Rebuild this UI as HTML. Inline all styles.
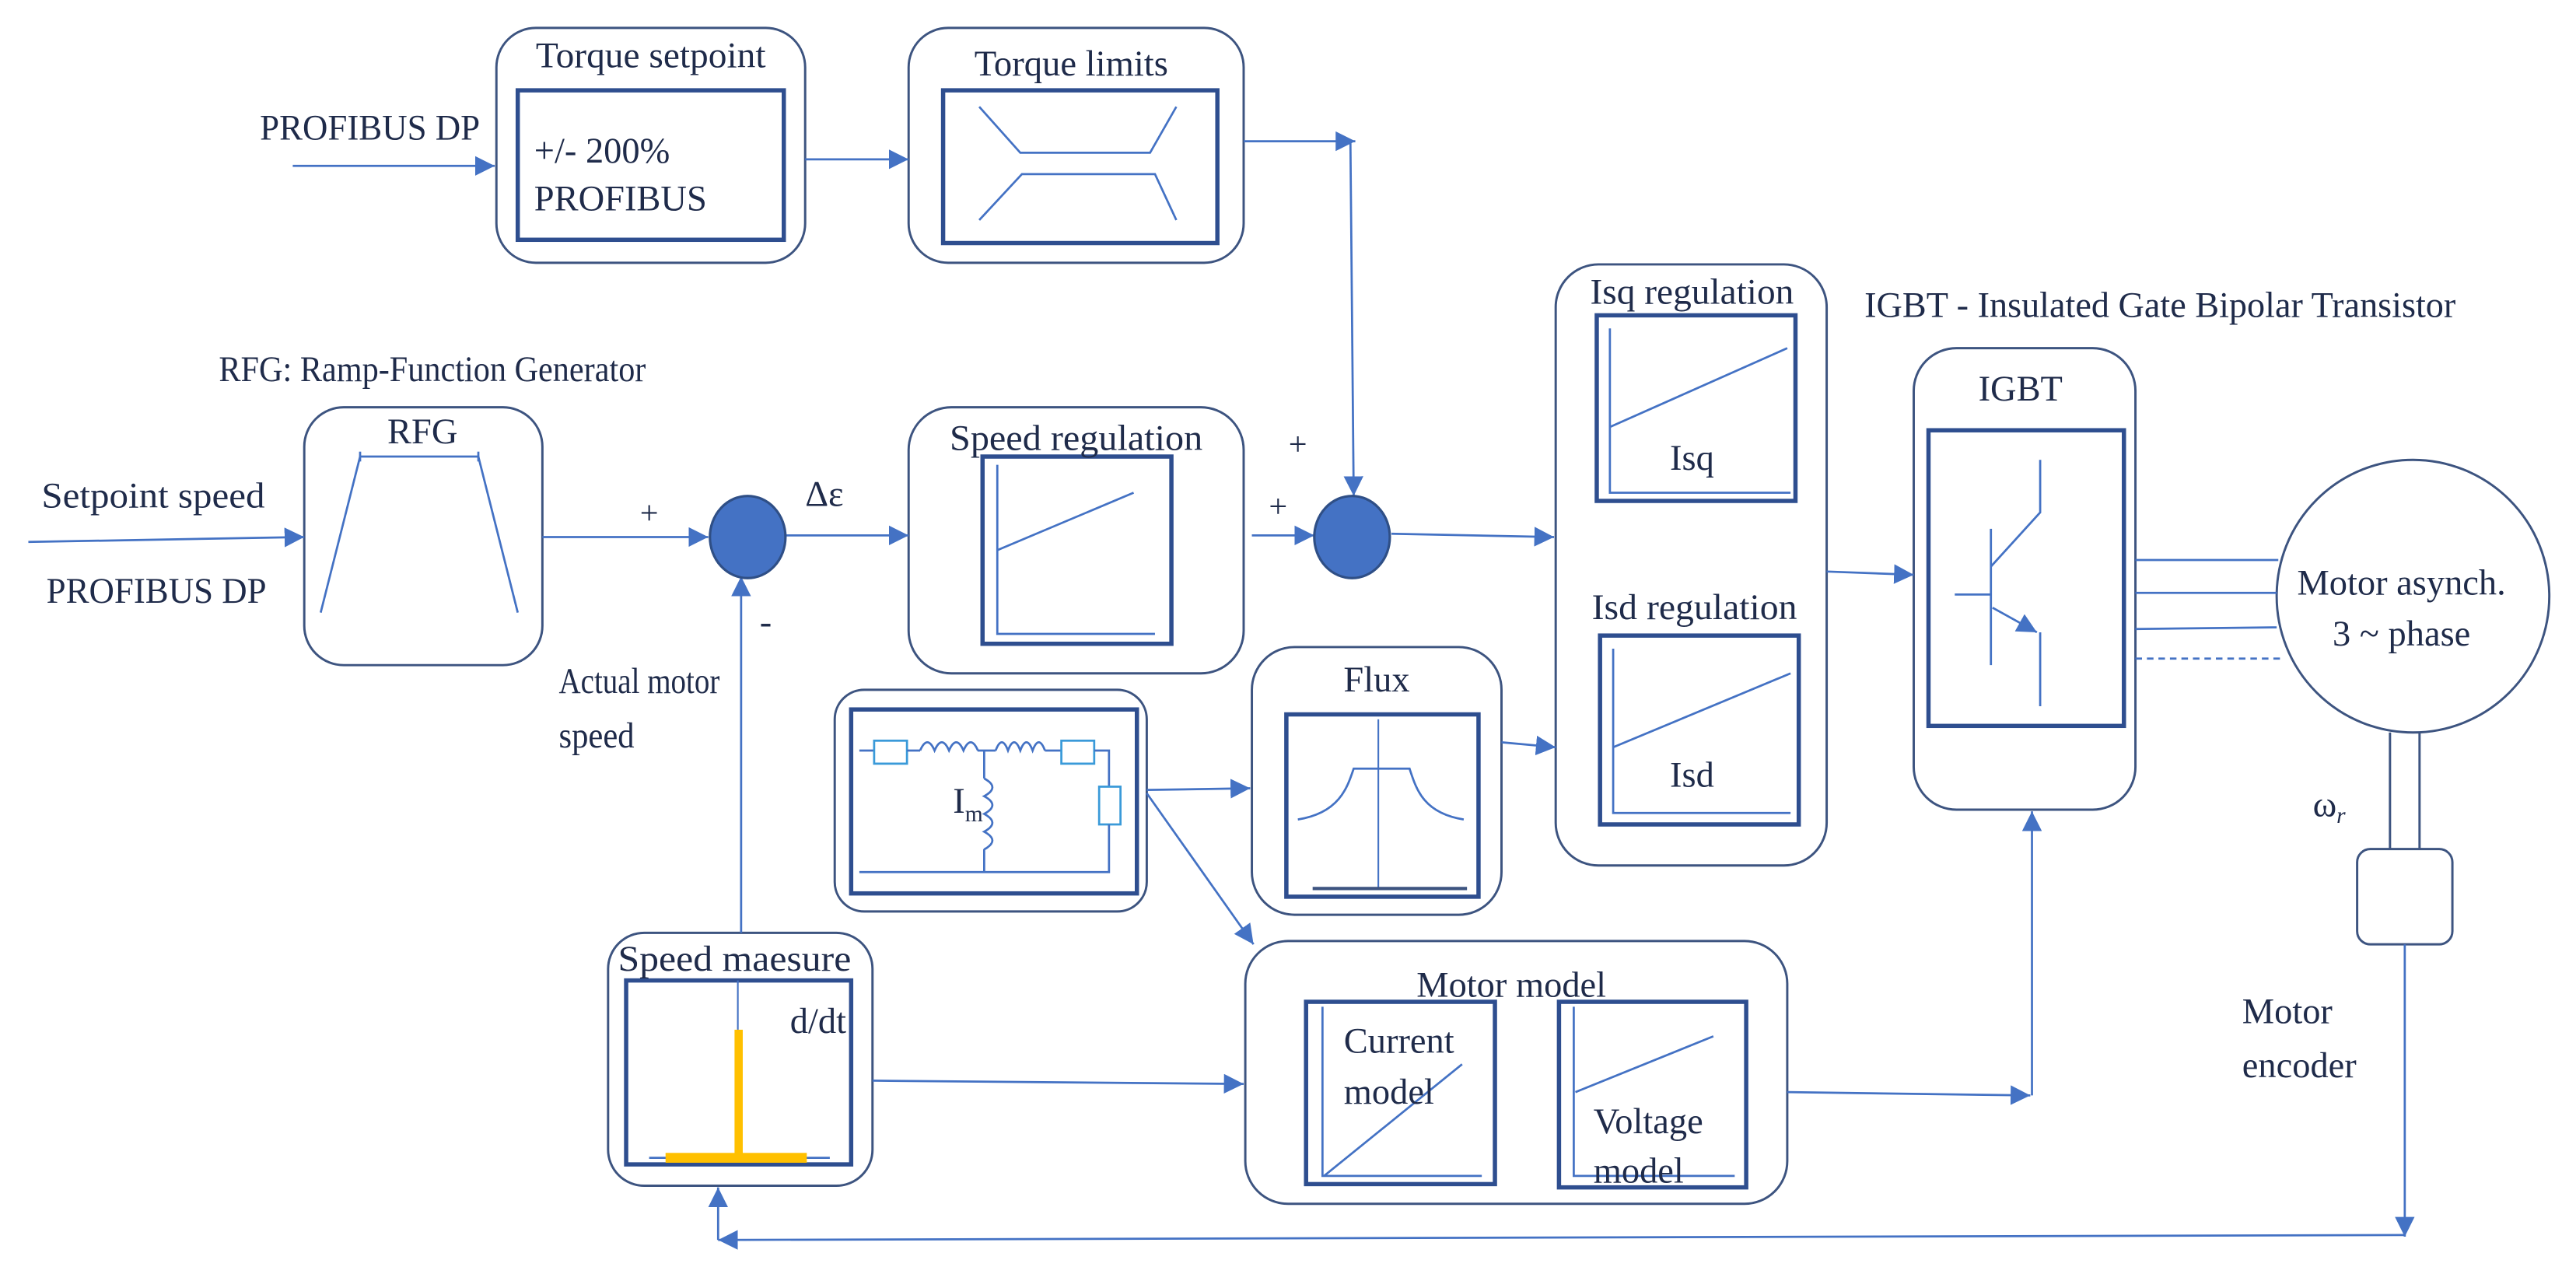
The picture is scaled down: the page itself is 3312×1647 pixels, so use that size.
<!DOCTYPE html>
<html><head><meta charset="utf-8"><style>
html,body{margin:0;padding:0;background:#fff;}
svg{display:block;}
text{font-family:"Liberation Serif",serif;fill:#1f2b4a;}
</style></head><body>
<svg width="3312" height="1647" viewBox="0 0 1568 780" xmlns="http://www.w3.org/2000/svg">
<defs>
<marker id="b" viewBox="0 0 10 10" refX="10" refY="5" markerWidth="12" markerHeight="12" orient="auto" markerUnits="userSpaceOnUse">
<path d="M0,0 L10,5 L0,10 z" fill="#4472c4"/></marker>
</defs>
<rect width="1568" height="780" fill="#fff"/>
<g fill="none" stroke="#3d5480" stroke-width="1.4">
<rect x="302" y="17" width="188" height="143" rx="24"/>
<rect x="553" y="17" width="204" height="143" rx="24"/>
<rect x="185" y="248" width="145" height="157" rx="24"/>
<rect x="553" y="248" width="204" height="162" rx="26"/>
<rect x="947" y="161" width="165" height="366" rx="26"/>
<rect x="1165" y="212" width="135" height="281" rx="26"/>
<rect x="508" y="420" width="190" height="135" rx="18"/>
<rect x="762" y="394" width="152" height="163" rx="26"/>
<rect x="370" y="568" width="161" height="154" rx="22"/>
<rect x="758" y="573" width="330" height="160" rx="26"/>
<rect x="1435" y="517" width="58" height="58" rx="8"/>
<ellipse cx="1469" cy="363" rx="83" ry="83"/>
<line x1="1455" y1="446" x2="1455" y2="517"/><line x1="1473" y1="446" x2="1473" y2="517"/>
</g>
<g fill="none" stroke="#2e4e8f" stroke-width="2.6">
<rect x="315" y="55" width="162" height="91"/>
<rect x="574" y="55" width="167" height="93"/>
<rect x="598" y="278" width="115" height="114"/>
<rect x="972" y="192" width="121" height="113"/>
<rect x="974" y="387" width="121" height="115"/>
<rect x="1174" y="262" width="119" height="180"/>
<rect x="518" y="432" width="174" height="112"/>
<rect x="783" y="435" width="117" height="111"/>
<rect x="381" y="597" width="137" height="112"/>
<rect x="795" y="610" width="115" height="111"/>
<rect x="949" y="610" width="114" height="113"/>
</g>
<g fill="none" stroke="#4472c4" stroke-width="1.3">
<polyline points="596,65 621,93 700,93 716,65"/>
<polyline points="596,134 622,106 703,106 716,134"/>
<polyline points="195,373 219,278 291,278 315,373"/>
<line x1="219" y1="275" x2="219" y2="281"/><line x1="291" y1="275" x2="291" y2="281"/>
<polyline points="607,283 607,386 703,386"/><line x1="607" y1="335" x2="690" y2="300"/>
<polyline points="980,200 980,300 1090,300"/><line x1="980" y1="260" x2="1088" y2="212"/>
<polyline points="982,395 982,495 1090,495"/><line x1="982" y1="455" x2="1090" y2="410"/>
<line x1="1212" y1="322" x2="1212" y2="405"/><line x1="1190" y1="362" x2="1212" y2="362"/>
<polyline points="1212,345 1242,312 1242,280"/>
<line x1="1213" y1="370" x2="1240" y2="385" marker-end="url(#b)"/>
<line x1="1242" y1="385" x2="1242" y2="430"/>
<line x1="839" y1="438" x2="839" y2="541" stroke-width="1"/>
<line x1="799" y1="541" x2="893" y2="541" stroke="#3d5480" stroke-width="2"/>
<path d="M790,499 C815,495 820,480 824,468 L858,468 C862,480 866,495 891,499"/>
<polyline points="805,613 805,716 902,716"/><line x1="806" y1="716" x2="890" y2="648"/>
<polyline points="958,613 958,716 1056,716"/><line x1="959" y1="665" x2="1043" y2="631"/>
<line x1="449" y1="597" x2="449" y2="627" stroke-width="1"/>
<line x1="395" y1="705" x2="505" y2="705"/>
<line x1="523" y1="457" x2="532" y2="457"/><rect x="532" y="451" width="20" height="14" stroke="#3a9ad9"/>
<line x1="552" y1="457" x2="560" y2="457"/>
<path d="M560,457 q4.4,-10 8.8,0 q4.4,-10 8.8,0 q4.4,-10 8.8,0 q4.4,-10 8.8,0"/>
<line x1="595" y1="457" x2="606" y2="457"/>
<path d="M606,457 q3.75,-10 7.5,0 q3.75,-10 7.5,0 q3.75,-10 7.5,0 q3.75,-10 7.5,0"/>
<line x1="636" y1="457" x2="646" y2="457"/><rect x="646" y="451" width="20" height="14" stroke="#3a9ad9"/>
<polyline points="666,457 675,457 675,479"/><rect x="669" y="479" width="13" height="23" stroke="#3a9ad9"/>
<polyline points="675,502 675,531 523,531"/>
<line x1="599" y1="457" x2="599" y2="474"/>
<path d="M599,474 q10,5.4 0,10.8 q10,5.4 0,10.8 q10,5.4 0,10.8 q10,5.4 0,10.8"/>
<line x1="599" y1="517" x2="599" y2="531"/>
<line x1="1300" y1="341" x2="1387" y2="341"/>
<line x1="1300" y1="361" x2="1386" y2="361"/>
<line x1="1300" y1="383" x2="1386" y2="382"/>
<line x1="1300" y1="401" x2="1390" y2="401" stroke-dasharray="4,3"/>
<line x1="178" y1="101" x2="301" y2="101" marker-end="url(#b)"/>
<line x1="490" y1="97" x2="553" y2="97" marker-end="url(#b)"/>
<line x1="757" y1="86" x2="825" y2="86" marker-end="url(#b)"/>
<line x1="822" y1="86" x2="824" y2="302" marker-end="url(#b)"/>
<line x1="17" y1="330" x2="185" y2="327" marker-end="url(#b)"/>
<line x1="330" y1="327" x2="431" y2="327" marker-end="url(#b)"/>
<line x1="478" y1="326" x2="553" y2="326" marker-end="url(#b)"/>
<line x1="451" y1="568" x2="451" y2="351" marker-end="url(#b)"/>
<line x1="762" y1="326" x2="800" y2="326" marker-end="url(#b)"/>
<line x1="847" y1="325" x2="946" y2="327" marker-end="url(#b)"/>
<line x1="1112" y1="348" x2="1165" y2="350" marker-end="url(#b)"/>
<line x1="698" y1="481" x2="761" y2="480" marker-end="url(#b)"/>
<line x1="698" y1="483" x2="763" y2="575" marker-end="url(#b)"/>
<line x1="914" y1="452" x2="947" y2="455" marker-end="url(#b)"/>
<line x1="531" y1="658" x2="757" y2="660" marker-end="url(#b)"/>
<line x1="1088" y1="665" x2="1236" y2="667" marker-end="url(#b)"/>
<line x1="1237" y1="667" x2="1237" y2="494" marker-end="url(#b)"/>
<line x1="1464" y1="575" x2="1464" y2="753" marker-end="url(#b)"/>
<line x1="1464" y1="752" x2="437" y2="755" marker-end="url(#b)"/>
<line x1="437" y1="755" x2="437" y2="723" marker-end="url(#b)"/>
</g>
<g fill="#4472c4" stroke="#2f4f86" stroke-width="1.5">
<ellipse cx="455" cy="327" rx="23" ry="25"/>
<ellipse cx="823" cy="327" rx="23" ry="25"/>
</g>
<g fill="#ffc000">
<rect x="447" y="627" width="5" height="77"/>
<rect x="405" y="702" width="86" height="6"/>
</g>
<g font-size="22">
<text x="158" y="85" textLength="134" lengthAdjust="spacingAndGlyphs">PROFIBUS DP</text>
<text x="326" y="41" textLength="140" lengthAdjust="spacingAndGlyphs">Torque setpoint</text>
<text x="325" y="99">+/- 200%</text>
<text x="325" y="128">PROFIBUS</text>
<text x="593" y="46" textLength="118" lengthAdjust="spacingAndGlyphs">Torque limits</text>
<text x="133" y="232" textLength="260" lengthAdjust="spacingAndGlyphs">RFG: Ramp-Function Generator</text>
<text x="257" y="270" text-anchor="middle">RFG</text>
<text x="25" y="309" textLength="136" lengthAdjust="spacingAndGlyphs">Setpoint speed</text>
<text x="28" y="367" textLength="134" lengthAdjust="spacingAndGlyphs">PROFIBUS DP</text>
<text x="395" y="319" text-anchor="middle" font-size="20">+</text>
<text x="490" y="308">Δε</text>
<text x="466" y="386" text-anchor="middle">-</text>
<text x="340" y="422" textLength="98" lengthAdjust="spacingAndGlyphs">Actual motor</text>
<text x="340" y="455" textLength="46" lengthAdjust="spacingAndGlyphs">speed</text>
<text x="578" y="274" textLength="154" lengthAdjust="spacingAndGlyphs">Speed regulation</text>
<text x="790" y="277" text-anchor="middle" font-size="20">+</text>
<text x="778" y="315" text-anchor="middle" font-size="20">+</text>
<text x="968" y="185" textLength="124" lengthAdjust="spacingAndGlyphs">Isq regulation</text>
<text x="1030" y="286" text-anchor="middle">Isq</text>
<text x="969" y="377" textLength="125" lengthAdjust="spacingAndGlyphs">Isd regulation</text>
<text x="1030" y="479" text-anchor="middle">Isd</text>
<text x="1135" y="193" textLength="360" lengthAdjust="spacingAndGlyphs">IGBT - Insulated Gate Bipolar Transistor</text>
<text x="1230" y="244" text-anchor="middle">IGBT</text>
<text x="1462" y="362" text-anchor="middle">Motor asynch.</text>
<text x="1462" y="393" text-anchor="middle">3 ~ phase</text>
<text x="1408" y="497">ω<tspan font-size="14" font-style="italic" dy="4">r</tspan></text>
<text x="1365" y="623">Motor</text>
<text x="1365" y="656">encoder</text>
<text x="838" y="421" text-anchor="middle">Flux</text>
<text x="580" y="495">I<tspan font-size="14" dy="5">m</tspan></text>
<text x="447" y="591" text-anchor="middle" textLength="142" lengthAdjust="spacingAndGlyphs">Speed maesure</text>
<text x="515" y="629" text-anchor="end">d/dt</text>
<text x="920" y="607" text-anchor="middle">Motor model</text>
<text x="818" y="641">Current</text>
<text x="818" y="672">model</text>
<text x="970" y="690">Voltage</text>
<text x="970" y="720">model</text>
</g>
</svg>
</body></html>
